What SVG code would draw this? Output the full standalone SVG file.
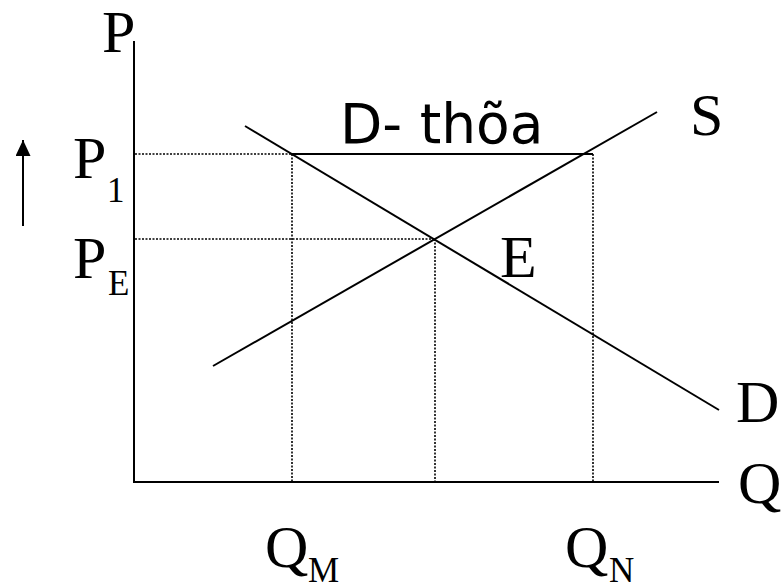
<svg xmlns="http://www.w3.org/2000/svg" width="784" height="583" viewBox="0 0 784 583">
<style>
.ax{stroke:#000;stroke-width:2;fill:none}
.ln{stroke:#000;stroke-width:2;fill:none}
.dt{stroke:#000;stroke-width:1.6;stroke-dasharray:2 1.5;fill:none}
.lb{font-family:"Liberation Serif","Times New Roman",serif;font-size:60px;fill:#000}
.sb{font-family:"Liberation Serif","Times New Roman",serif;font-size:35px;fill:#000}
.sn{font-family:"DejaVu Sans",Verdana,sans-serif;font-size:55px;fill:#000}
</style>
<defs>
<marker id="ah" viewBox="0 0 16 15" refX="16" refY="7.5" markerWidth="16" markerHeight="15" markerUnits="userSpaceOnUse" orient="auto">
<path d="M0,0 L16,7.5 L0,15 z" fill="#000"/>
</marker>
</defs>
<rect width="784" height="583" fill="#fff"/>
<g id="axes">
<line class="ax" x1="134" y1="41" x2="134" y2="483"/>
<line class="ax" x1="133" y1="482" x2="719" y2="482"/>
<text class="lb" x="102" y="52">P</text>
<text class="lb" x="738" y="503">Q</text>
</g>
<g id="connectors">
<line class="dt" x1="135" y1="154" x2="292" y2="154"/>
<line class="dt" x1="135" y1="239" x2="434" y2="239"/>
<line class="dt" x1="292" y1="154" x2="292" y2="481"/>
<line class="dt" x1="435" y1="239" x2="435" y2="481"/>
<line class="dt" x1="593" y1="154" x2="593" y2="481"/>
<line class="ln" x1="292" y1="154" x2="593" y2="154"/>
<line class="ln" x1="23" y1="226" x2="23" y2="140" marker-end="url(#ah)"/>
</g>
<g id="supply">
<line class="ln" x1="213" y1="366" x2="657" y2="112"/>
<text class="lb" x="690" y="135">S</text>
</g>
<g id="demand">
<line class="ln" x1="245" y1="126" x2="719" y2="410"/>
<text class="lb" x="736" y="422">D</text>
</g>
<g id="equilibrium">
<text class="lb" x="500" y="277">E</text>
</g>
<g id="p1">
<text class="lb" x="73" y="178">P</text>
<text class="sb" x="107" y="202">1</text>
</g>
<g id="pe">
<text class="lb" x="73" y="278">P</text>
<text class="sb" x="108" y="295">E</text>
</g>
<g id="qm">
<text class="lb" x="265" y="567">Q</text>
<text class="sb" x="308" y="582">M</text>
</g>
<g id="qn">
<text class="lb" x="565" y="567">Q</text>
<text class="sb" x="609" y="582">N</text>
</g>
<g id="excess">
<text class="sn" x="340" y="143">D- thõa</text>
</g>
</svg>
